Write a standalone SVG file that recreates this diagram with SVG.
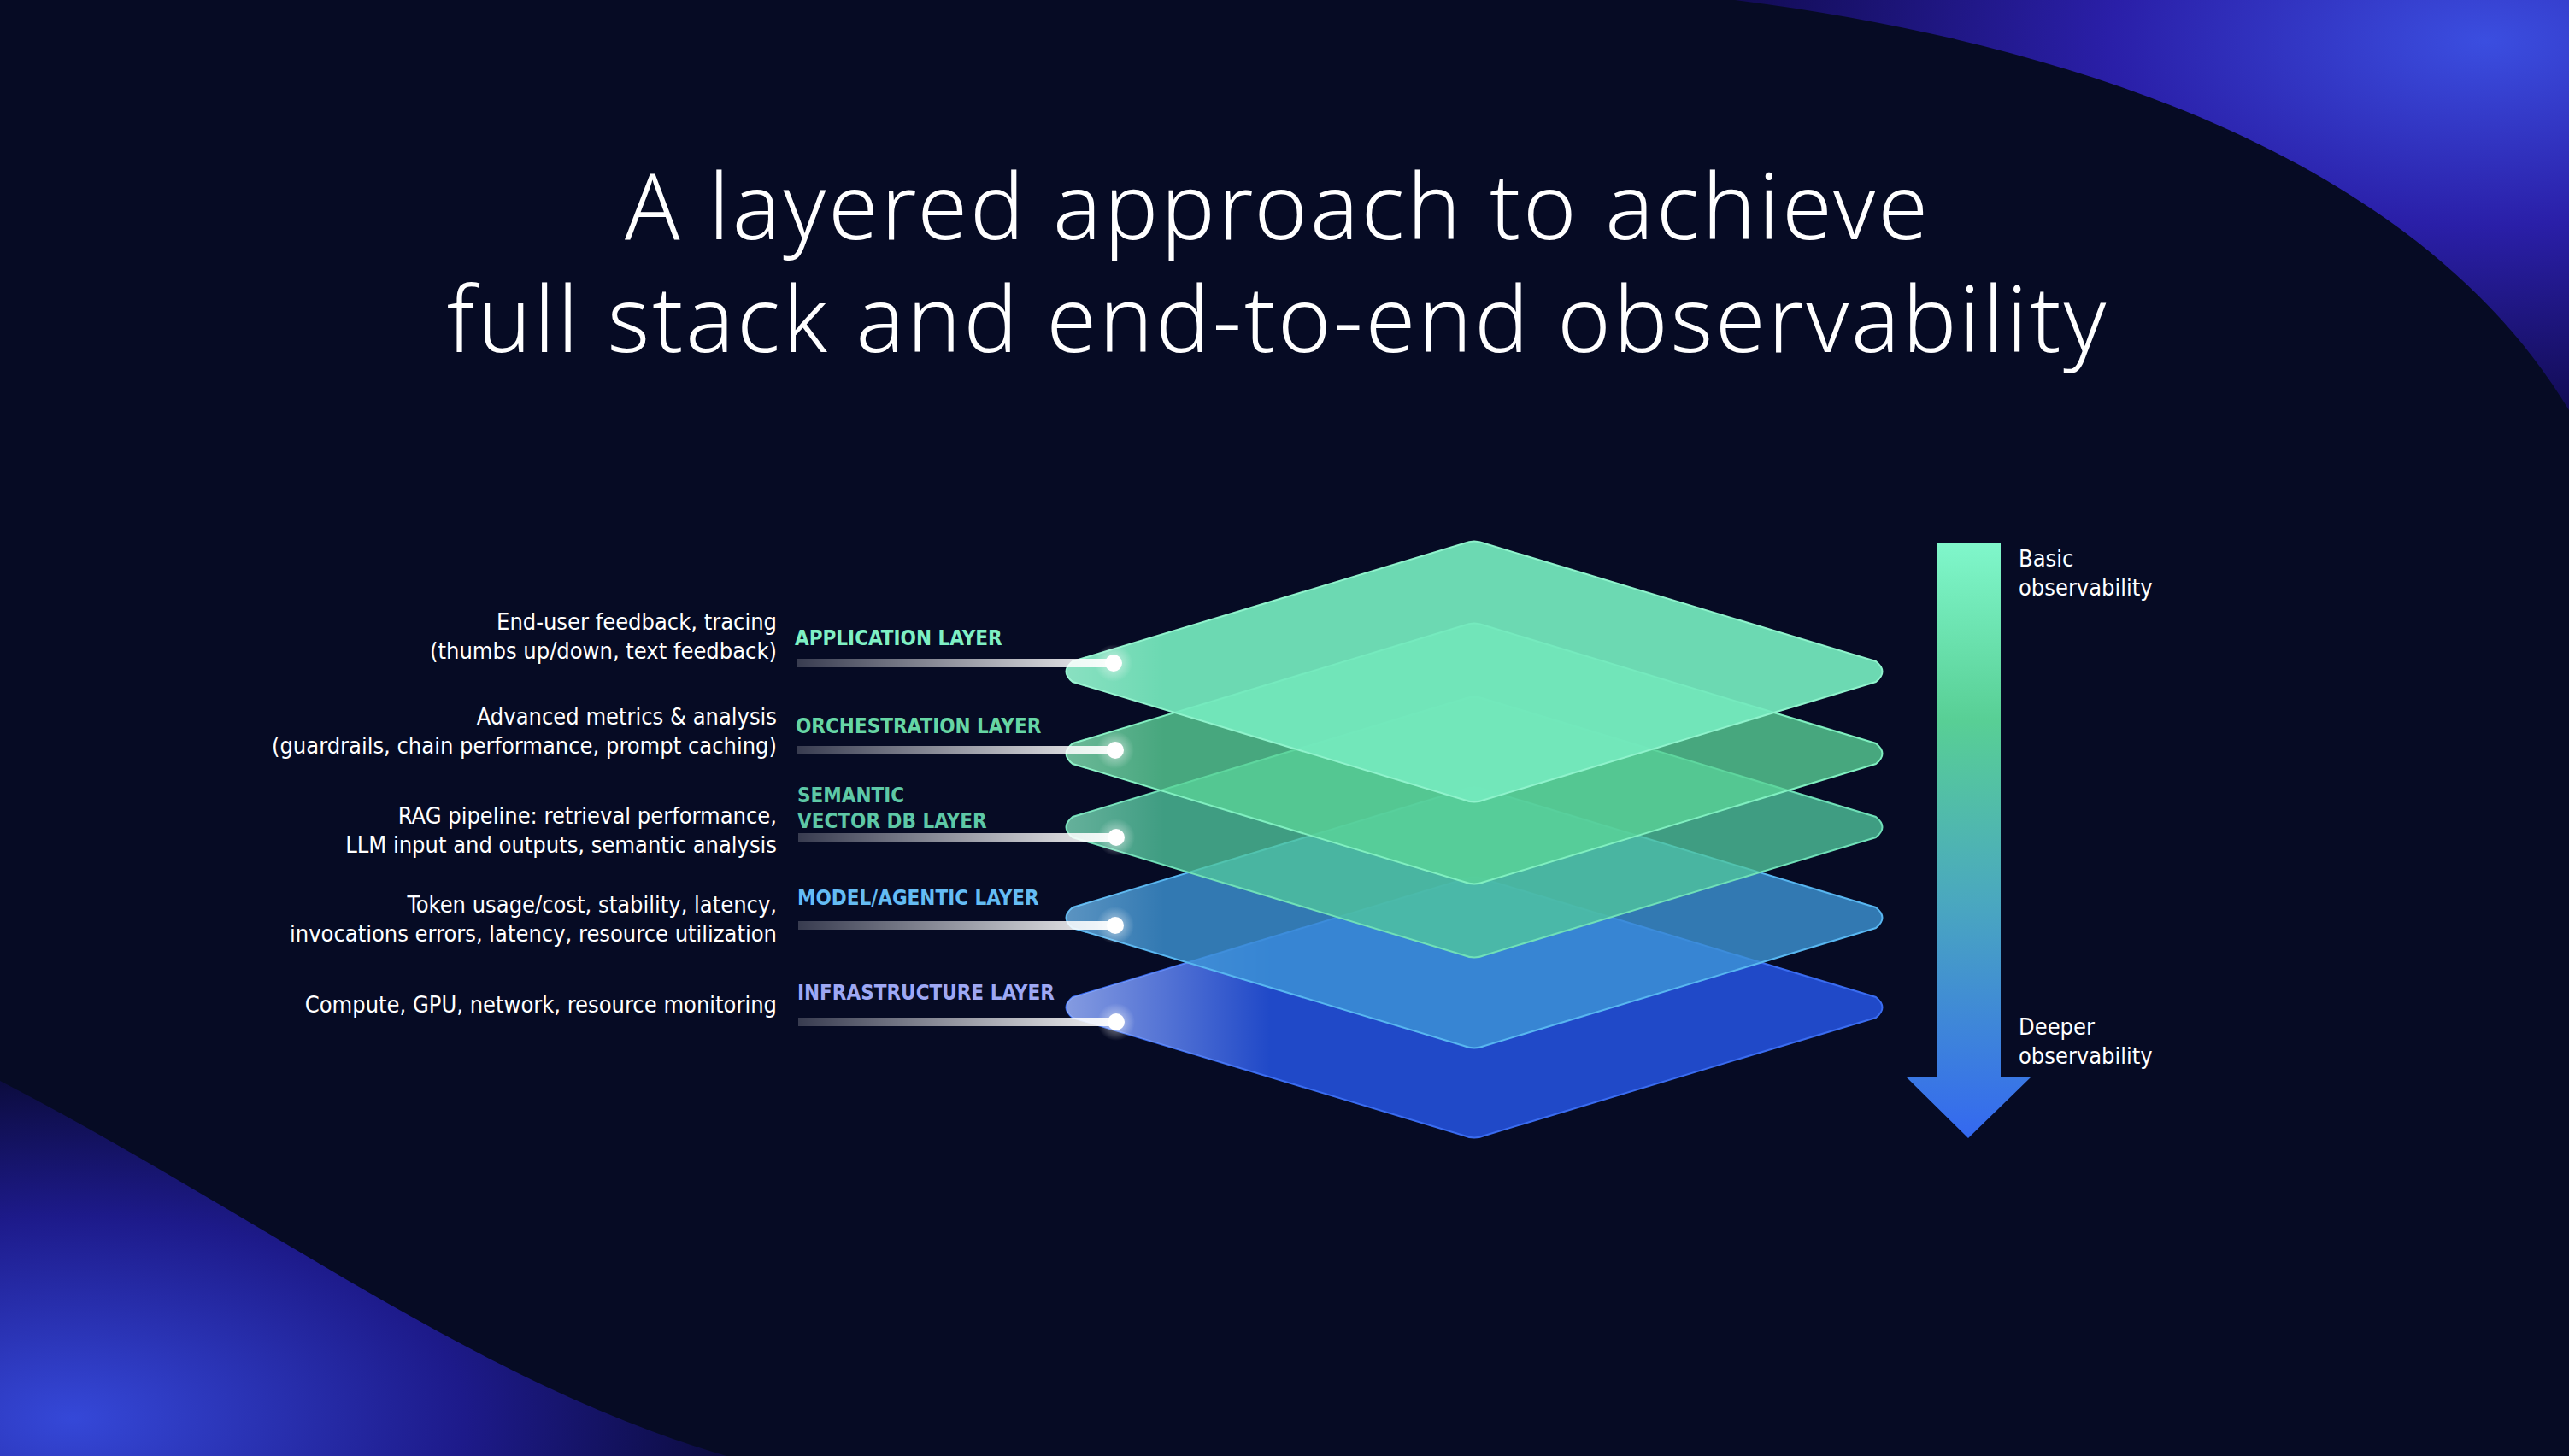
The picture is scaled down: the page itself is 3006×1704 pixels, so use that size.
<svg xmlns="http://www.w3.org/2000/svg" width="3006" height="1704" viewBox="0 0 3006 1704">
<defs>
<radialGradient id="trg" cx="0.9" cy="0.1" r="0.9"><stop offset="0" stop-color="#3b4ee0"/><stop offset="0.5" stop-color="#2a1fa8"/><stop offset="1" stop-color="#120c55"/></radialGradient>
<radialGradient id="blg" cx="0.1" cy="0.9" r="0.9"><stop offset="0" stop-color="#3548d8"/><stop offset="0.6" stop-color="#1d1a8a"/><stop offset="1" stop-color="#0c0c40"/></radialGradient>
<linearGradient id="bar" x1="0" x2="1"><stop offset="0" stop-color="#ffffff" stop-opacity="0.2"/><stop offset="1" stop-color="#ffffff" stop-opacity="0.95"/></linearGradient>
<linearGradient id="arr" x1="0" y1="0" x2="0" y2="1"><stop offset="0" stop-color="#80f7cb"/><stop offset="0.3" stop-color="#58cf95"/><stop offset="0.6" stop-color="#4aa8bf"/><stop offset="1" stop-color="#3468f0"/></linearGradient>
<linearGradient id="glow" x1="0" x2="1"><stop offset="0" stop-color="#ffffff" stop-opacity="0.45"/><stop offset="0.25" stop-color="#ffffff" stop-opacity="0"/></linearGradient>
<linearGradient id="glow2" x1="0" x2="1"><stop offset="0" stop-color="#ffffff" stop-opacity="0.2"/><stop offset="0.12" stop-color="#ffffff" stop-opacity="0"/></linearGradient>
<radialGradient id="dotg"><stop offset="0" stop-color="#ffffff" stop-opacity="0.6"/><stop offset="1" stop-color="#ffffff" stop-opacity="0"/></radialGradient>
<path id="dia" d="M-470,-12 L-12,-150 Q0,-155 12,-150 L470,-12 Q485,0 470,12 L12,150 Q0,155 -12,150 L-470,12 Q-485,0 -470,-12 Z"/>
</defs>
<style>
.t{font-family:"Noto Sans","DejaVu Sans",sans-serif;font-weight:300;font-size:106px;letter-spacing:3px;fill:#fff;text-anchor:middle}
.d{font-family:"DejaVu Sans Condensed","DejaVu Sans",sans-serif;font-size:27px;fill:#fff;text-anchor:end}
.l{font-family:"DejaVu Sans Condensed","DejaVu Sans",sans-serif;font-weight:bold;font-size:24px}
.o{font-family:"DejaVu Sans Condensed","DejaVu Sans",sans-serif;font-size:27px;fill:#fff}
</style>
<rect width="3006" height="1704" fill="#060b24"/>
<path d="M2030,0 C2500,60 2850,220 3006,480 L3006,0 Z" fill="url(#trg)"/>
<path d="M0,1265 C300,1420 560,1620 850,1704 L0,1704 Z" fill="url(#blg)"/>
<text class="t" x="1495" y="280">A layered approach to achieve</text>
<text class="t" x="1495" y="412">full stack and end-to-end observability</text>

<g id="layer-infrastructure" transform="translate(1725,1179)"><use href="#dia" fill="#2049c8" stroke="#3a6cf0" stroke-width="2"/><use href="#dia" fill="url(#glow)"/></g>
<g id="layer-model" transform="translate(1725,1074)"><use href="#dia" fill="#3d95d6" fill-opacity="0.8" stroke="#58b6f0" stroke-width="2"/><use href="#dia" fill="url(#glow2)"/></g>
<g id="layer-semantic" transform="translate(1725,968)"><use href="#dia" fill="#4fc79c" fill-opacity="0.78" stroke="#70e0b8" stroke-width="2"/><use href="#dia" fill="url(#glow2)"/></g>
<g id="layer-orchestration" transform="translate(1725,882)"><use href="#dia" fill="#5ad497" fill-opacity="0.78" stroke="#80efc0" stroke-width="2"/><use href="#dia" fill="url(#glow2)"/></g>
<g id="layer-application" transform="translate(1725,786)"><use href="#dia" fill="#74eabd" fill-opacity="0.93" stroke="#8ff3cc" stroke-width="2"/><use href="#dia" fill="url(#glow2)"/></g>

<g id="connectors">
<rect x="932" y="771" width="371" height="10" fill="url(#bar)"/><circle cx="1303" cy="776" r="22" fill="url(#dotg)"/><circle cx="1303" cy="776" r="10" fill="#fff"/>
<rect x="932" y="873" width="373" height="10" fill="url(#bar)"/><circle cx="1305" cy="878" r="22" fill="url(#dotg)"/><circle cx="1305" cy="878" r="10" fill="#fff"/>
<rect x="934" y="975" width="371" height="10" fill="url(#bar)"/><circle cx="1306" cy="980" r="22" fill="url(#dotg)"/><circle cx="1306" cy="980" r="10" fill="#fff"/>
<rect x="934" y="1078" width="371" height="10" fill="url(#bar)"/><circle cx="1305" cy="1083" r="22" fill="url(#dotg)"/><circle cx="1305" cy="1083" r="10" fill="#fff"/>
<rect x="934" y="1191" width="371" height="10" fill="url(#bar)"/><circle cx="1306" cy="1196" r="22" fill="url(#dotg)"/><circle cx="1306" cy="1196" r="10" fill="#fff"/>
</g>

<g id="labels">
<text class="l" x="930" y="755" fill="#7ff0c4">APPLICATION LAYER</text>
<text class="l" x="931" y="858" fill="#66d6a4">ORCHESTRATION LAYER</text>
<text class="l" x="933" y="939" fill="#5ec8a6">SEMANTIC</text>
<text class="l" x="933" y="969" fill="#5ec8a6">VECTOR DB LAYER</text>
<text class="l" x="933" y="1059" fill="#64bcf4">MODEL/AGENTIC LAYER</text>
<text class="l" x="933" y="1170" fill="#9ea8f4">INFRASTRUCTURE LAYER</text>
<text class="d" x="909" y="737">End-user feedback, tracing</text>
<text class="d" x="909" y="771">(thumbs up/down, text feedback)</text>
<text class="d" x="909" y="848">Advanced metrics &amp; analysis</text>
<text class="d" x="909" y="882">(guardrails, chain performance, prompt caching)</text>
<text class="d" x="909" y="964">RAG pipeline: retrieval performance,</text>
<text class="d" x="909" y="998">LLM input and outputs, semantic analysis</text>
<text class="d" x="909" y="1068">Token usage/cost, stability, latency,</text>
<text class="d" x="909" y="1102">invocations errors, latency, resource utilization</text>
<text class="d" x="909" y="1185">Compute, GPU, network, resource monitoring</text>
</g>

<g id="arrow">
<path d="M2266,635 L2341,635 L2341,1260 L2377,1260 L2303,1332 L2230,1260 L2266,1260 Z" fill="url(#arr)"/>
<text class="o" x="2362" y="663">Basic</text>
<text class="o" x="2362" y="697">observability</text>
<text class="o" x="2362" y="1211">Deeper</text>
<text class="o" x="2362" y="1245">observability</text>
</g>
</svg>
